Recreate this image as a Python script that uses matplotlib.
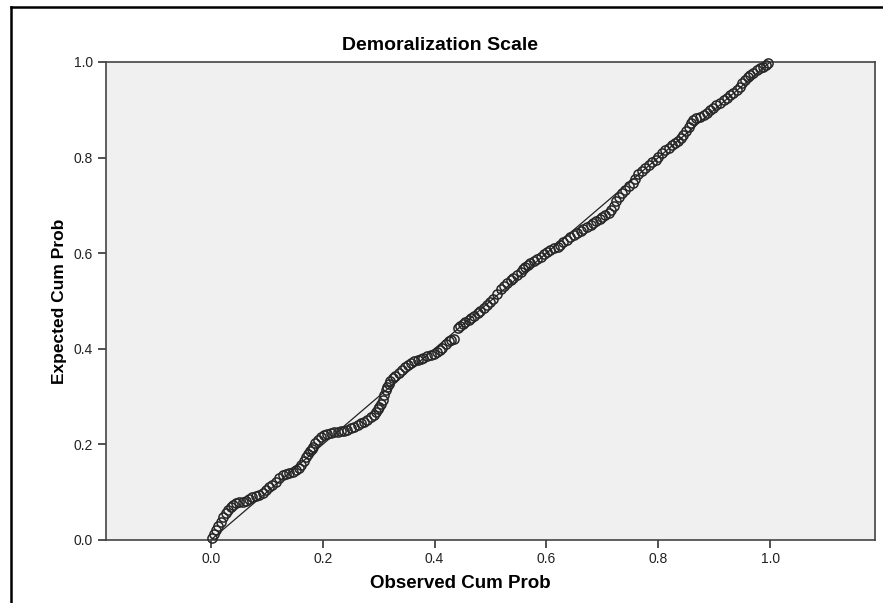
import matplotlib
matplotlib.use("Agg")
import matplotlib.pyplot as plt
from matplotlib.lines import Line2D

plt.rcParams['font.family'] = ['Liberation Sans', 'DejaVu Sans']

title = "Demoralization Scale"
x_label = "Observed Cum Prob"
y_label = "Expected Cum Prob"

# observed vs expected cumulative probabilities, one pair per case
observed = [0.002, 0.005, 0.009, 0.013, 0.018, 0.022, 0.027, 0.031, 0.036, 0.040,
            0.045, 0.051, 0.057, 0.062, 0.068, 0.074, 0.080, 0.086, 0.093, 0.099,
            0.104, 0.110, 0.116, 0.122, 0.129, 0.134, 0.139, 0.146, 0.152, 0.157,
            0.161, 0.166, 0.170, 0.174, 0.177, 0.180, 0.182, 0.186, 0.191, 0.197,
            0.202, 0.208, 0.214, 0.220, 0.227, 0.232, 0.238, 0.244, 0.250, 0.256,
            0.263, 0.268, 0.273, 0.280, 0.286, 0.291, 0.295, 0.298, 0.300, 0.304,
            0.307, 0.310, 0.3125, 0.315, 0.318, 0.321, 0.325, 0.330, 0.336, 0.342,
            0.348, 0.352, 0.357, 0.363, 0.370, 0.375, 0.380, 0.386, 0.393, 0.399,
            0.405, 0.410, 0.414, 0.420, 0.425, 0.430, 0.434, 0.441, 0.446, 0.450,
            0.455, 0.461, 0.466, 0.471, 0.477, 0.482, 0.488, 0.493, 0.499, 0.504,
            0.511, 0.518, 0.524, 0.530, 0.536, 0.541, 0.548, 0.554, 0.558, 0.5625,
            0.567, 0.571, 0.578, 0.584, 0.590, 0.595, 0.601, 0.607, 0.614, 0.620,
            0.625, 0.630, 0.637, 0.643, 0.649, 0.655, 0.661, 0.666, 0.672, 0.679,
            0.684, 0.689, 0.695, 0.700, 0.705, 0.711, 0.716, 0.720, 0.724, 0.729,
            0.735, 0.741, 0.748, 0.754, 0.759, 0.764, 0.770, 0.777, 0.783, 0.789,
            0.795, 0.800, 0.806, 0.8125, 0.819, 0.825, 0.830, 0.836, 0.840, 0.845,
            0.850, 0.854, 0.858, 0.8625, 0.868, 0.875, 0.881, 0.8875, 0.893, 0.898,
            0.904, 0.911, 0.917, 0.923, 0.929, 0.934, 0.940, 0.946, 0.950, 0.955,
            0.960, 0.964, 0.970, 0.977, 0.982, 0.9875, 0.992, 0.996]
expected = [0.004, 0.012, 0.021, 0.030, 0.038, 0.048, 0.056, 0.063, 0.069, 0.074,
            0.077, 0.079, 0.079, 0.082, 0.086, 0.089, 0.092, 0.095, 0.098, 0.104,
            0.111, 0.116, 0.121, 0.129, 0.136, 0.139, 0.140, 0.143, 0.146, 0.151,
            0.157, 0.165, 0.174, 0.180, 0.186, 0.191, 0.195, 0.202, 0.209, 0.215,
            0.220, 0.222, 0.224, 0.225, 0.226, 0.227, 0.228, 0.231, 0.234, 0.237,
            0.241, 0.244, 0.247, 0.252, 0.257, 0.262, 0.268, 0.273, 0.278, 0.285,
            0.293, 0.304, 0.314, 0.320, 0.326, 0.333, 0.339, 0.344, 0.349, 0.356,
            0.362, 0.366, 0.370, 0.374, 0.377, 0.379, 0.381, 0.384, 0.387, 0.390,
            0.393, 0.397, 0.402, 0.409, 0.416, 0.419, 0.421, 0.444, 0.448, 0.452,
            0.456, 0.460, 0.465, 0.469, 0.474, 0.479, 0.485, 0.492, 0.498, 0.504,
            0.514, 0.525, 0.531, 0.538, 0.543, 0.548, 0.554, 0.561, 0.566, 0.571,
            0.575, 0.579, 0.584, 0.588, 0.593, 0.598, 0.603, 0.607, 0.610, 0.613,
            0.618, 0.623, 0.628, 0.634, 0.638, 0.642, 0.646, 0.651, 0.655, 0.659,
            0.663, 0.667, 0.671, 0.676, 0.680, 0.684, 0.691, 0.699, 0.709, 0.718,
            0.725, 0.732, 0.740, 0.747, 0.756, 0.766, 0.772, 0.778, 0.785, 0.791,
            0.796, 0.801, 0.809, 0.816, 0.821, 0.826, 0.830, 0.835, 0.841, 0.847,
            0.856, 0.864, 0.872, 0.879, 0.882, 0.885, 0.889, 0.893, 0.899, 0.904,
            0.909, 0.914, 0.920, 0.925, 0.930, 0.935, 0.941, 0.948, 0.955, 0.962,
            0.968, 0.973, 0.978, 0.983, 0.987, 0.990, 0.994, 0.998]

ticks = [0.0, 0.2, 0.4, 0.6, 0.8, 1.0]
tick_labels = ["0.0", "0.2", "0.4", "0.6", "0.8", "1.0"]

fig = plt.figure(figsize=(8.83, 6.03), dpi=100)
ax = fig.add_axes([0.120, 0.1045, 0.871, 0.7927])
ax.set_facecolor("#f0f0f0")

# reference diagonal
ax.plot([0, 1], [0, 1], color="#222222", lw=0.9, zorder=2)
ax.plot(observed, expected, linestyle="none", marker="o", markersize=6.6,
        markerfacecolor="none", markeredgecolor="#262626", markeredgewidth=1.1,
        zorder=3, clip_on=False)

ax.set_xlim(-0.1875, 1.1875)
ax.set_ylim(0, 1)
ax.set_xticks(ticks)
ax.set_xticklabels(tick_labels)
ax.set_yticks(ticks)
ax.set_yticklabels(tick_labels)
ax.tick_params(direction="out", length=6, width=1.2, color="#333333",
               labelsize=10, labelcolor="#222222")
ax.tick_params(axis="x", pad=3)
for sp in ax.spines.values():
    sp.set_color("#444444")
    sp.set_linewidth(1.2)

fig.text(440 / 883, 1 - 45 / 603, title, ha="center", va="center",
         fontsize=14, fontweight="bold")
fig.text(460 / 883, 1 - 583 / 603, x_label, ha="center", va="center",
         fontsize=13.5, fontweight="bold")
fig.text(60 / 883, 1 - 301 / 603, y_label, ha="center", va="center",
         rotation=90, fontsize=12.5, fontweight="bold")

# outer frame edges
fig.add_artist(Line2D([11 / 883, 11 / 883], [0, 1 - 7 / 603],
                      transform=fig.transFigure, color="black", lw=1.8))
fig.add_artist(Line2D([11 / 883, 1], [1 - 7 / 603, 1 - 7 / 603],
                      transform=fig.transFigure, color="black", lw=1.8))

fig.savefig("out.png", dpi=100)
